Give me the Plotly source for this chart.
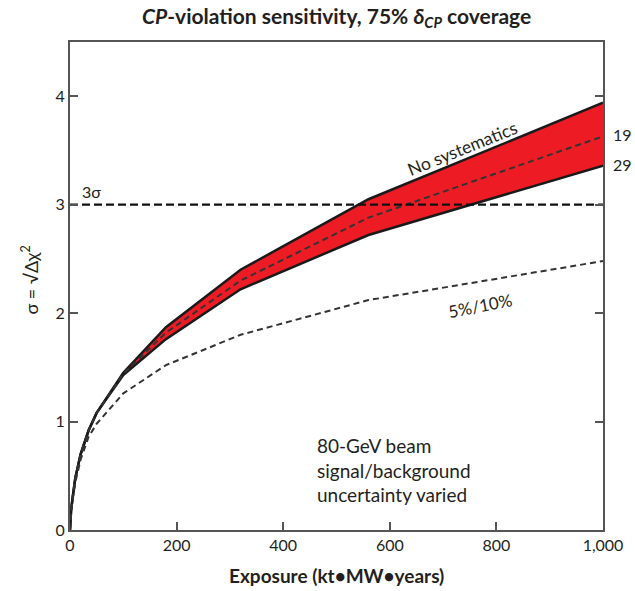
import plotly.graph_objects as go

# Exposure (kt*MW*years)
exposure = [0, 2, 5, 10, 20, 35, 50, 100, 180, 320, 560, 1000]
# No systematics (upper edge of band)
upper = [0, 0.18, 0.30, 0.48, 0.70, 0.92, 1.08, 1.45, 1.87, 2.40, 3.05, 3.94]
# 1% systematics (dashed middle)
middle = [0, 0.18, 0.30, 0.48, 0.70, 0.92, 1.08, 1.44, 1.82, 2.30, 2.88, 3.63]
# 2% systematics (lower edge of band)
lower = [0, 0.18, 0.30, 0.48, 0.70, 0.92, 1.08, 1.43, 1.76, 2.22, 2.72, 3.36]
# 5%/10% systematics
sys5_10 = [0, 0.17, 0.28, 0.44, 0.65, 0.86, 0.98, 1.26, 1.52, 1.80, 2.12, 2.48]

x_ticks = [0, 200, 400, 600, 800, 1000]
x_tick_text = ["0", "200", "400", "600", "800", "1,000"]
y_ticks = [0, 1, 2, 3, 4]
three_sigma = 3

FONT = "Lato"
TXT = "#231f20"

fig = go.Figure()
fig.add_trace(go.Scatter(x=exposure, y=upper, mode="lines",
                         line=dict(color="#1a1a1a", width=2.5), showlegend=False))
fig.add_trace(go.Scatter(x=exposure, y=lower, mode="lines", fill="tonexty",
                         fillcolor="#ed1c24",
                         line=dict(color="#1a1a1a", width=2.5), showlegend=False))
fig.add_trace(go.Scatter(x=exposure, y=middle, mode="lines",
                         line=dict(color="#333333", width=2, dash="6px,4px"), showlegend=False))
fig.add_trace(go.Scatter(x=exposure, y=sys5_10, mode="lines",
                         line=dict(color="#333333", width=2, dash="6px,4px"), showlegend=False))
fig.add_trace(go.Scatter(x=[0, 1000], y=[three_sigma, three_sigma], mode="lines",
                         line=dict(color="#111111", width=2.2, dash="8px,4px"), showlegend=False))

fig.update_layout(
    width=635, height=591,
    margin=dict(l=70, r=23, t=42, b=61),
    paper_bgcolor="white", plot_bgcolor="white",
    font=dict(family=FONT, color=TXT, size=16),
    xaxis=dict(range=[0, 1000], tickvals=x_ticks, ticktext=x_tick_text,
               ticks="inside", ticklen=8, tickwidth=1.5, tickcolor="#555",
               showline=True, linecolor="#555", linewidth=2, mirror=True,
               showgrid=False, zeroline=False,
               tickfont=dict(size=16, color=TXT, family=FONT)),
    yaxis=dict(range=[0, 4.5], tickvals=y_ticks,
               ticks="inside", ticklen=8, tickwidth=1.5, tickcolor="#555",
               showline=True, linecolor="#555", linewidth=2, mirror="ticks",
               showgrid=False, zeroline=False,
               tickfont=dict(size=16, color=TXT, family=FONT)),
)

fig.add_annotation(x=0.5, xref="paper", y=1, yref="paper", yanchor="middle", yshift=25,
                   text="<b><i>CP</i>-violation sensitivity, 75% <i>δ</i><sub><i>CP</i></sub> coverage</b>",
                   showarrow=False, font=dict(size=21, color=TXT, family=FONT))
fig.add_annotation(x=0.5, xref="paper", y=0, yref="paper", yanchor="middle", yshift=-45,
                   text="<b>Exposure (kt•MW•years)</b>",
                   showarrow=False, font=dict(size=19, color=TXT, family=FONT))
fig.add_annotation(x=0, xref="paper", xanchor="center", xshift=-40, y=2.3, yref="y",
                   yanchor="middle",
                   text="σ = √Δχ<sup>2</sup>", textangle=-90,
                   showarrow=False, font=dict(size=18, color=TXT, family=FONT))
fig.add_annotation(x=18, y=3.02, text="3σ", showarrow=False, xanchor="left",
                   yanchor="bottom", font=dict(size=16, color=TXT, family=FONT))
fig.add_annotation(x=736, y=3.52, text="No systematics", showarrow=False,
                   textangle=-22, font=dict(size=17.5, color=TXT, family=FONT))
fig.add_annotation(x=771, y=2.07, text="5%/10%", showarrow=False,
                   textangle=-11, font=dict(size=17, color=TXT, family=FONT))
fig.add_annotation(x=460, y=0.55, xanchor="left", align="left",
                   text="80-GeV beam<br>signal/background<br>uncertainty varied",
                   showarrow=False, font=dict(size=19, color=TXT, family=FONT))
fig.add_annotation(x=1000, y=3.65, xanchor="left", xshift=8, text="19",
                   showarrow=False, font=dict(size=16, color=TXT, family=FONT))
fig.add_annotation(x=1000, y=3.37, xanchor="left", xshift=8, text="29",
                   showarrow=False, font=dict(size=16, color=TXT, family=FONT))

fig.write_html("out.html")
